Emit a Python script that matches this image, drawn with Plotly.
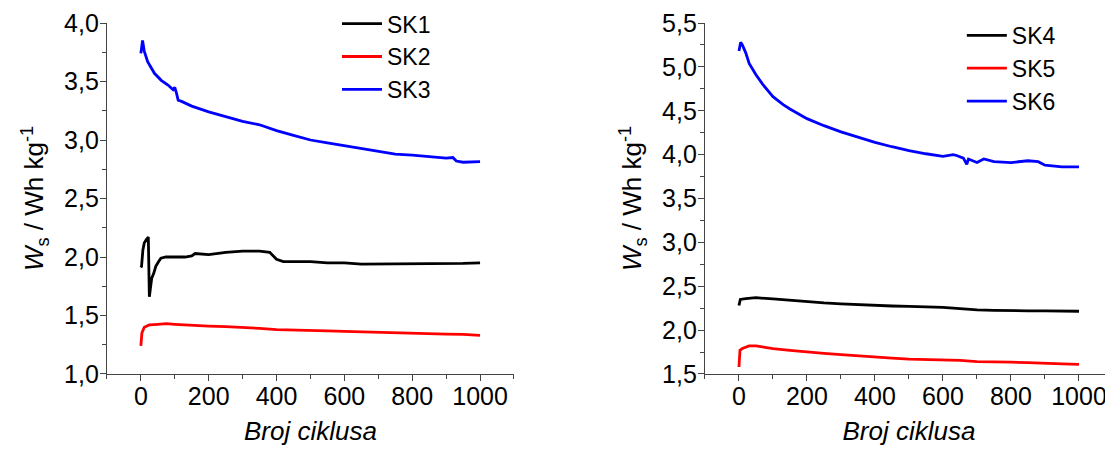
import plotly.graph_objects as go
from plotly.subplots import make_subplots

# ---- data ----
sk1_x = [0, 2, 6, 10, 16, 22, 25, 28, 32, 38, 44, 52, 59, 74, 100, 130, 150, 160, 200, 250, 300, 350, 380, 400, 420, 450, 500, 550, 600, 650, 700, 750, 800, 850, 900, 950, 1000]
sk1_y = [1.91, 1.92, 2.06, 2.12, 2.15, 2.17, 1.66, 1.76, 1.82, 1.86, 1.92, 1.96, 1.99, 2.00, 2.00, 2.00, 2.01, 2.03, 2.02, 2.04, 2.05, 2.05, 2.04, 1.98, 1.96, 1.96, 1.96, 1.95, 1.95, 1.94, 1.94, 1.94, 1.94, 1.945, 1.94, 1.945, 1.95]

sk2_x = [0, 3, 10, 25, 50, 75, 100, 150, 200, 250, 300, 350, 400, 450, 500, 550, 600, 650, 700, 750, 800, 850, 900, 950, 1000]
sk2_y = [1.24, 1.35, 1.40, 1.42, 1.425, 1.43, 1.425, 1.415, 1.41, 1.405, 1.40, 1.39, 1.38, 1.378, 1.372, 1.368, 1.365, 1.36, 1.355, 1.35, 1.345, 1.345, 1.34, 1.338, 1.33]

sk3_x = [0, 5, 10, 20, 30, 40, 60, 80, 95, 100, 105, 110, 120, 150, 200, 250, 300, 350, 400, 450, 500, 550, 600, 650, 700, 750, 800, 850, 900, 920, 930, 950, 1000]
sk3_y = [3.74, 3.85, 3.76, 3.67, 3.62, 3.57, 3.51, 3.47, 3.43, 3.45, 3.40, 3.34, 3.33, 3.29, 3.24, 3.20, 3.16, 3.13, 3.08, 3.04, 3.00, 2.975, 2.95, 2.93, 2.90, 2.88, 2.87, 2.855, 2.845, 2.85, 2.82, 2.81, 2.815]

sk4_x = [0, 4, 20, 50, 100, 150, 200, 250, 300, 350, 400, 450, 500, 550, 600, 650, 700, 750, 800, 850, 900, 950, 1000]
sk4_y = [2.28, 2.35, 2.36, 2.37, 2.355, 2.34, 2.32, 2.31, 2.30, 2.29, 2.28, 2.275, 2.27, 2.265, 2.26, 2.245, 2.23, 2.225, 2.22, 2.22, 2.22, 2.215, 2.215]

sk5_x = [0, 3, 10, 30, 50, 100, 150, 200, 250, 300, 350, 400, 450, 500, 550, 600, 650, 700, 750, 800, 850, 900, 950, 1000]
sk5_y = [1.58, 1.77, 1.79, 1.82, 1.82, 1.79, 1.77, 1.75, 1.735, 1.72, 1.705, 1.69, 1.68, 1.67, 1.665, 1.66, 1.655, 1.64, 1.64, 1.635, 1.63, 1.62, 1.615, 1.61]

sk6_x = [0, 5, 10, 20, 30, 50, 70, 100, 130, 150, 200, 250, 300, 350, 400, 450, 500, 550, 600, 630, 640, 660, 670, 675, 700, 720, 750, 800, 850, 880, 900, 950, 1000]
sk6_y = [5.18, 5.28, 5.25, 5.16, 5.04, 4.91, 4.80, 4.66, 4.57, 4.52, 4.41, 4.33, 4.26, 4.20, 4.14, 4.09, 4.045, 4.01, 3.98, 4.00, 3.99, 3.96, 3.89, 3.95, 3.91, 3.95, 3.92, 3.91, 3.93, 3.92, 3.88, 3.86, 3.86]

left_series = [("SK1", sk1_x, sk1_y, "#000000"), ("SK2", sk2_x, sk2_y, "#ff0000"), ("SK3", sk3_x, sk3_y, "#0000ff")]
right_series = [("SK4", sk4_x, sk4_y, "#000000"), ("SK5", sk5_x, sk5_y, "#ff0000"), ("SK6", sk6_x, sk6_y, "#0000ff")]

FONT = "Liberation Sans, Arial, sans-serif"

fig = make_subplots(rows=1, cols=2)

for name, xs, ys, col in left_series:
    fig.add_trace(go.Scatter(x=xs, y=ys, mode="lines", name=name,
                             line=dict(color=col, width=2.8), legend="legend"), row=1, col=1)
for name, xs, ys, col in right_series:
    fig.add_trace(go.Scatter(x=xs, y=ys, mode="lines", name=name,
                             line=dict(color=col, width=2.8), legend="legend2"), row=1, col=2)

axcommon = dict(showgrid=False, zeroline=False, showline=True, linecolor="#444", linewidth=1.2,
                ticks="outside", ticklen=6, tickcolor="#444", tickwidth=1.2, automargin=False,
                tickfont=dict(family=FONT, size=25, color="#000"), mirror=False)

xtitle = dict(text="<i>Broj ciklusa</i>", font=dict(family=FONT, size=26, color="#000"), standoff=12)
ytitle = dict(text="<i>W</i><sub>s</sub> / Wh kg<sup>-1</sup>", font=dict(family=FONT, size=26, color="#000"), standoff=12)

fig.update_xaxes(**axcommon, range=[-100, 1100], dtick=200, tick0=0, ticklabelstandoff=-6,
                 minor=dict(ticks="outside", ticklen=4, tickcolor="#444", dtick=100, tick0=0),
                 title=xtitle)
fig.update_xaxes(domain=[0.0889, 0.4546], row=1, col=1)
fig.update_xaxes(domain=[0.6262, 0.9928], row=1, col=2)

fig.update_yaxes(**axcommon, dtick=0.5, tickformat=".1f", domain=[0, 0.959], ticklabelstandoff=-4,
                 minor=dict(ticks="outside", ticklen=4, tickcolor="#444", dtick=0.25),
                 title=ytitle)
fig.update_yaxes(range=[1.0, 4.0], tick0=1.0, row=1, col=1)
fig.update_yaxes(range=[1.5, 5.5], tick0=1.5, row=1, col=2)

legcommon = dict(font=dict(family=FONT, size=23, color="#000"), bgcolor="rgba(0,0,0,0)",
                 xanchor="left", yanchor="top", tracegroupgap=0, itemwidth=40)

fig.update_layout(
    width=1113, height=453,
    margin=dict(l=0, r=0, t=0, b=87, autoexpand=False),
    paper_bgcolor="white", plot_bgcolor="white",
    separators=",.",
    showlegend=True,
    legend=dict(x=0.2956, y=1.016, **legcommon),
    legend2=dict(x=0.857, y=0.984, **legcommon),
)

fig.write_html("out.html")
